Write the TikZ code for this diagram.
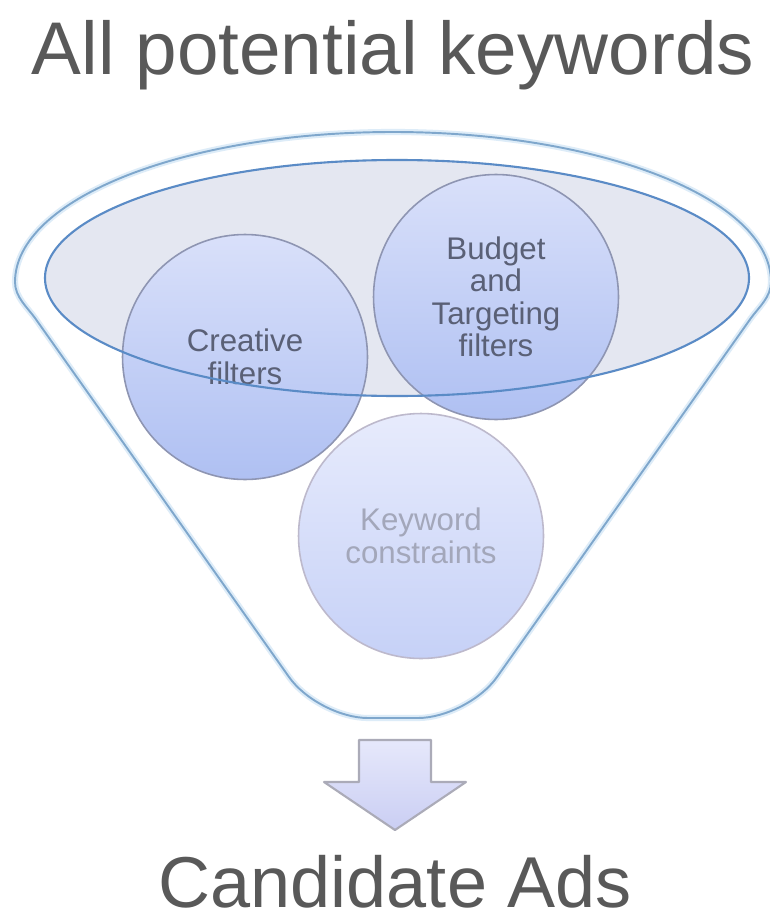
\documentclass[tikz,border=0pt]{standalone}
\usepackage{fontspec}
\setmainfont{Liberation Sans}
\usepackage{xcolor}

\definecolor{titlegray}{HTML}{595959}
\definecolor{funnelline}{HTML}{7FA7CC}
\definecolor{funnelglow}{HTML}{DDECF8}
\definecolor{rimline}{HTML}{5A8BC6}
\definecolor{rimfill}{HTML}{E4E7F1}
\definecolor{ringline}{HTML}{8E95B2}
\definecolor{disctop}{HTML}{D9E0FA}
\definecolor{discbottom}{HTML}{AFC0F2}
\definecolor{disctext}{HTML}{5A6076}
\definecolor{faintline}{HTML}{BDB9CC}
\definecolor{fainttop}{HTML}{E7EBFC}
\definecolor{faintbottom}{HTML}{C6D1F7}
\definecolor{fainttext}{HTML}{A3A7BA}
\definecolor{arrowtop}{HTML}{E6E8FB}
\definecolor{arrowbottom}{HTML}{CACEF3}
\definecolor{arrowline}{HTML}{ABABB8}

\begin{document}
\begin{tikzpicture}[x=0.02cm, y=-0.02cm,
    funnel/.style={draw=funnelline, line width=1.1pt, preaction={draw=funnelglow, line width=3.5pt}},
    rim/.style={draw=rimline, line width=1.2pt},
    filter/.style={circle, draw=ringline, line width=0.9pt, minimum size=4.9cm, align=center,
        top color=disctop, bottom color=discbottom, text=disctext,
        font=\fontsize{17.8}{18.5}\selectfont},
    faint/.style={draw=faintline, top color=fainttop, bottom color=faintbottom, text=fainttext},
    heading/.style={anchor=base, text=titlegray}]

        \fill[white] (0,0) rectangle (769,922);
        \useasboundingbox (0,0) rectangle (769,922);

        % Funnel
        \draw[funnel] (15,282) .. controls (15,297) and (27,307) .. (35,318)
            [rounded corners=1cm] -- (318,718) -- (468,718)
            [sharp corners] -- (751,318) .. controls (759,307) and (771,297) .. (771,282)
            arc[start angle=0, end angle=-180, x radius=378, y radius=150] -- cycle;
        \fill[rimfill] (397,278) ellipse [x radius=352, y radius=118];

        % Nodes
        \node[filter] (1) at (245,357) {Creative\\filters};
        \node[filter] (2) at (496,297) {Budget\\and\\Targeting\\filters};
        \node[filter, faint] (3) at (421,536) {Keyword\\constraints};

        % Rim
        \draw[rim] (397,278) ellipse [x radius=352, y radius=118];

        % Arrow
        \draw[arrowline, line width=1.2pt, line join=round, top color=arrowtop, bottom color=arrowbottom]
            (359,740) -- (431,740) -- (431,782) -- (466,782) -- (395,830) -- (324,782) -- (359,782) -- cycle;

        % Labels
        \node[heading, font=\fontsize{42.5}{50}\selectfont] (top) at (393,75) {All potential keywords};
        \node[heading, font=\fontsize{41}{48}\selectfont] (bottom) at (395,907) {Candidate Ads};

\end{tikzpicture}
\end{document}
